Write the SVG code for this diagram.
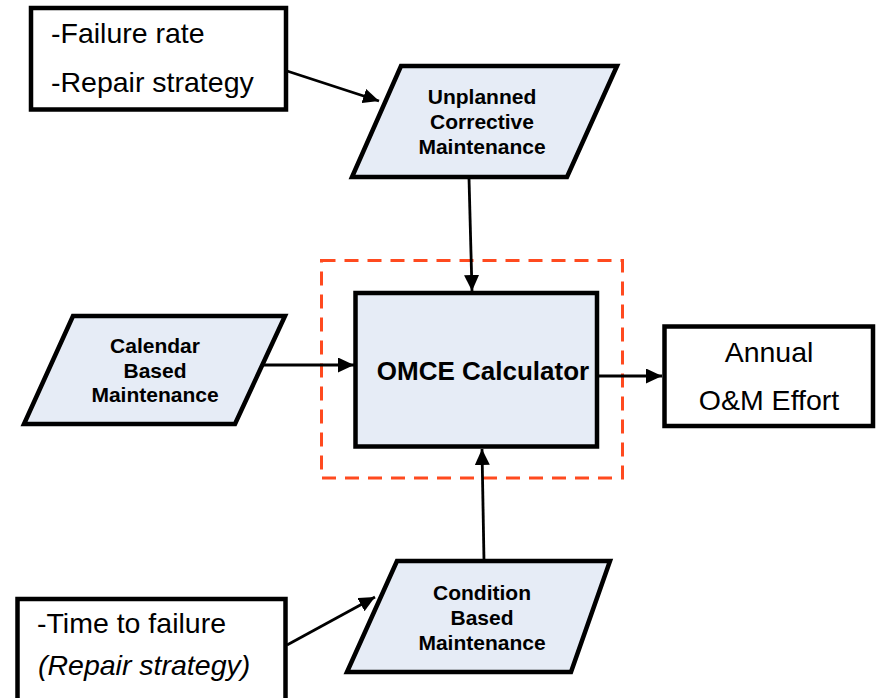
<svg xmlns="http://www.w3.org/2000/svg" width="881" height="698" viewBox="0 0 881 698">
  <defs>
    <marker id="arrow" markerUnits="userSpaceOnUse" markerWidth="17" markerHeight="15" refX="16" refY="7.5" orient="auto">
      <path d="M0,0 L16,7.5 L0,15 z" fill="#000"/>
    </marker>
    <style>
      .box { fill: #fff; stroke: #000; stroke-width: 4.5; }
      .proc { fill: #e6ecf6; stroke: #000; stroke-width: 4.5; stroke-linejoin: miter; }
      .frame { fill: none; stroke: #ff4a1f; stroke-width: 3; stroke-dasharray: 14 9; }
      .edge { fill: none; stroke: #000; stroke-width: 2.8; marker-end: url(#arrow); }
      .note { font-family: "Liberation Sans", Arial, sans-serif; font-size: 28.5px; fill: #000; }
      .lbl { font-family: "Liberation Sans", Arial, sans-serif; font-size: 21px; font-weight: bold; fill: #000; text-anchor: middle; }
      .big { font-family: "Liberation Sans", Arial, sans-serif; font-size: 26px; font-weight: bold; fill: #000; text-anchor: middle; }
      .out { font-family: "Liberation Sans", Arial, sans-serif; font-size: 28.5px; fill: #000; text-anchor: middle; }
    </style>
  </defs>

  <!-- calculator boundary -->
  <rect id="calc-boundary" class="frame" x="321.5" y="260.5" width="301" height="217.5"/>

  <g id="connectors">
    <line class="edge" x1="287" y1="71" x2="379" y2="101"/>
    <line class="edge" x1="469" y1="178" x2="472" y2="291"/>
    <line class="edge" x1="262" y1="365" x2="354" y2="365"/>
    <line class="edge" x1="597" y1="376" x2="662" y2="376"/>
    <line class="edge" x1="484" y1="561" x2="482" y2="449"/>
    <line class="edge" x1="287" y1="645" x2="375" y2="597"/>
  </g>

  <g id="failure-inputs">
    <rect class="box" x="31" y="8" width="255" height="101.5"/>
    <text class="note" x="51" y="43">-Failure rate</text>
    <text class="note" x="51" y="92">-Repair strategy</text>
  </g>

  <g id="unplanned-corrective">
    <polygon class="proc" points="401,66 617,66 567,177 352,177"/>
    <text class="lbl" x="482" y="104">Unplanned</text>
    <text class="lbl" x="482" y="129">Corrective</text>
    <text class="lbl" x="482" y="154">Maintenance</text>
  </g>

  <g id="calendar-based">
    <polygon class="proc" points="73,316 285,316 235,424 24,424"/>
    <text class="lbl" x="155" y="353">Calendar</text>
    <text class="lbl" x="155" y="377.5">Based</text>
    <text class="lbl" x="155" y="402">Maintenance</text>
  </g>

  <g id="omce-calculator">
    <rect class="proc" x="355.5" y="293" width="241.5" height="153.5" stroke-width="5"/>
    <text class="big" x="483" y="380">OMCE Calculator</text>
  </g>

  <g id="annual-effort">
    <rect class="box" x="664.5" y="326.5" width="208.5" height="99.5" stroke-width="5"/>
    <text class="out" x="769" y="362">Annual</text>
    <text class="out" x="769" y="410">O&amp;M Effort</text>
  </g>

  <g id="condition-based">
    <polygon class="proc" points="397,561 610,561 571,672 347,672"/>
    <text class="lbl" x="482" y="600">Condition</text>
    <text class="lbl" x="482" y="625">Based</text>
    <text class="lbl" x="482" y="650">Maintenance</text>
  </g>

  <g id="failure-time-inputs">
    <rect class="box" x="17.5" y="599" width="268" height="110"/>
    <text class="note" x="37" y="633">-Time to failure</text>
    <text class="note" x="38" y="675" font-style="italic">(Repair strategy)</text>
  </g>
</svg>
